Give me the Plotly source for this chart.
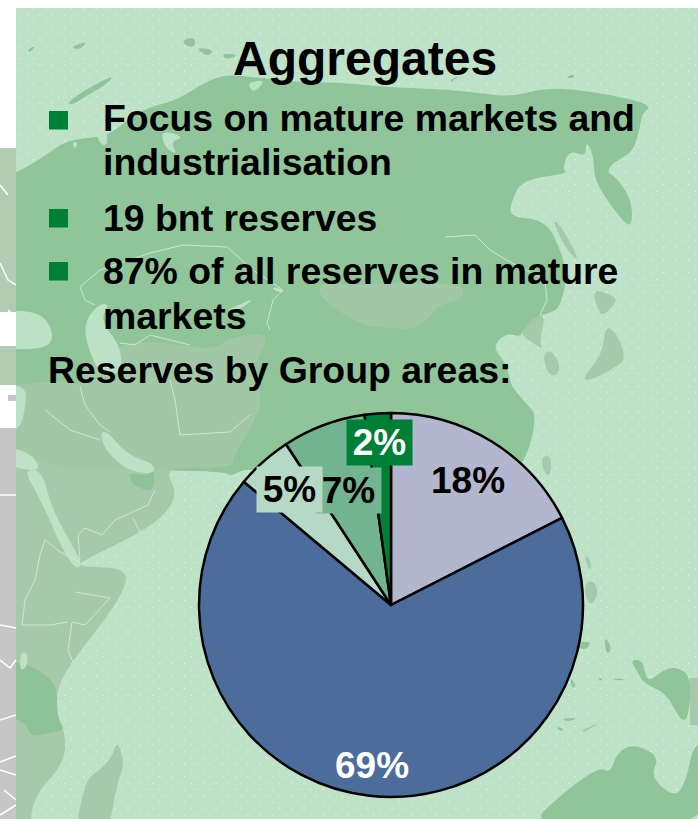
import base64
import plotly.graph_objects as go

W, H = 698, 819

# ---- chart data ----
slice_names = ["Group area 1", "Group area 2", "Group area 3", "Group area 4", "Group area 5"]
slice_values = [17.5, 68.6, 4.7, 7.0, 2.2]
slice_labels = ["18%", "69%", "5%", "7%", "2%"]
slice_colors = ["#B2B7CF", "#4C6C9C", "#B5D9C5", "#72B48F", "#008037"]

title_text = "Aggregates"
bullet_lines = ["Focus on mature markets and", "industrialisation", "19 bnt reserves",
                "87% of all reserves in mature", "markets"]
subtitle_text = "Reserves by Group areas:"

FONT = "Liberation Sans, Arial, sans-serif"
GREEN = "rgba(139,195,148,0.93)"
GREY = "rgba(163,199,168,0.93)"
LIGHT = "rgba(191,227,200,0.95)"
BULLET = "#008037"


def px(x, y):
    return x / W, 1 - y / H


def path(pts, close=True):
    parts = []
    for i, (x, y) in enumerate(pts):
        a, b = px(x, y)
        parts.append(("M" if i == 0 else "L") + f"{a:.5f},{b:.5f}")
    return " ".join(parts) + (" Z" if close else "")


def smooth(pts):
    """Closed outline with rounded corners (map coastlines)."""
    n = len(pts)
    mids = [((pts[i][0] + pts[(i + 1) % n][0]) / 2, (pts[i][1] + pts[(i + 1) % n][1]) / 2) for i in range(n)]
    a, b = px(*mids[-1])
    out = [f"M{a:.5f},{b:.5f}"]
    for i in range(n):
        c, d = px(*pts[i])
        e, f = px(*mids[i])
        out.append(f"Q{c:.5f},{d:.5f} {e:.5f},{f:.5f}")
    return " ".join(out) + " Z"


def poly(pts, fill):
    return dict(type="path", xref="paper", yref="paper", path=smooth(pts), fillcolor=fill,
                line=dict(width=0), layer="below")


def zoomed(pts, ox, oy):
    return [(ox + a / 3, oy + b / 3) for a, b in pts]


def stroke(pts, color="rgba(215,238,220,0.8)", width=1):
    return dict(type="path", xref="paper", yref="paper", path=path(pts, False),
                line=dict(color=color, width=width), layer="below")


def rect(x0, y0, x1, y1, fill):
    a, b = px(x0, y0)
    c, d = px(x1, y1)
    return dict(type="rect", xref="paper", yref="paper", x0=a, y0=b, x1=c, y1=d,
                fillcolor=fill, line=dict(width=0), layer="below")


shapes = []

# landmass
main = [(-30, 190), (16, 173), (33, 163), (43, 157), (67, 140), (100, 137), (113, 132), (140, 110), (177, 100), (197, 87),
        (217, 77), (233, 75), (260, 78), (300, 82), (349, 83), (382, 87), (416, 88), (449, 90), (482, 93), (509, 97),
        (546, 88), (582, 90), (636, 100), (651, 107), (642, 113), (639, 133), (632, 153), (612, 163), (607, 173),
        (616, 177), (632, 200), (632, 230), (616, 213), (594, 180), (594, 157), (586, 140), (586, 157), (569, 150),
        (562, 170), (569, 173), (522, 180), (512, 200), (509, 217), (546, 220), (562, 253), (567, 280), (559, 310),
        (546, 313), (522, 330), (521, 337), (506, 333), (492, 347), (506, 363), (509, 377), (512, 387), (529, 407),
        (535, 413), (533, 437), (523, 463), (500, 500), (500, 770), (300, 770), (300, 480), (246, 467), (232, 477),
        (220, 470), (-30, 470)]
shapes.append(poly(main, GREEN))

# Australia, New Guinea and islands (bottom right)
aus = [(70, 1290), (200, 1170), (300, 1100), (330, 1120), (350, 1060), (400, 1030), (480, 1070), (450, 1130),
       (525, 1195), (560, 1140), (580, 1030), (640, 1030), (640, 1290)]
shapes.append(poly(zoomed(aus, 500, 400), GREEN))
guinea = [(390, 780), (430, 780), (440, 850), (490, 810), (530, 800), (575, 830), (565, 960), (540, 960), (500, 880),
          (430, 850), (410, 810)]
shapes.append(poly(zoomed(guinea, 500, 400), GREEN))
shapes.append(rect(690, 678, 698, 725, GREY))
for isl, col in [
    ([(315, 710), (335, 740), (325, 765), (315, 745)], GREEN),
    ([(210, 830), (230, 860), (215, 865)], GREEN),
    ([(235, 725), (275, 725), (260, 748), (235, 745)], GREEN),
    ([(180, 958), (235, 952), (210, 965)], GREEN),
    ([(165, 980), (190, 985), (185, 995)], GREEN),
    ([(245, 990), (305, 965), (270, 985), (250, 998)], GREY),
    ([(335, 835), (380, 838), (350, 842)], GREEN),
    ([(295, 832), (310, 838), (298, 843)], GREEN),
    ([(250, 550), (285, 540), (295, 590), (265, 620)], GREY),
    ([(255, 465), (272, 480), (272, 515), (258, 490)], GREY),
    ([(127, 170), (150, 165), (155, 205), (145, 232), (127, 205)], GREY),
]:
    shapes.append(poly(zoomed(isl, 500, 400), col))

# Arctic islands
for isl in [
    [(67, 103), (85, 90), (113, 75), (110, 82), (85, 97), (72, 105)],
    [(182, 40), (195, 37), (195, 47), (186, 46)],
    [(195, 47), (215, 50), (207, 57)],
    [(222, 53), (240, 55), (225, 60)],
    [(27, 50), (36, 45), (30, 53)],
    [(70, 47), (88, 41), (80, 50)],
    [(450, 80), (460, 75), (452, 82)],
    [(565, 78), (573, 74), (575, 78)],
]:
    shapes.append(poly(isl, GREEN))

# light inlets on the north coast
for isl in [
    [(247, 83), (262, 80), (263, 84), (253, 93)],
    [(35, 140), (42, 140), (45, 158), (38, 152)],
    [(72, 142), (78, 142), (75, 150)],
    [(95, 128), (106, 127), (108, 145), (100, 145)],
    [(160, 130), (185, 137), (170, 142), (178, 155), (165, 148)],
]:
    shapes.append(poly(isl, LIGHT))

# Middle East + Africa
me = [(-30, 387), (16, 385), (63, 380), (85, 385), (80, 370), (120, 343), (165, 342), (215, 350), (228, 338), (268, 332),
      (262, 352), (252, 368), (262, 395), (258, 415), (233, 457), (233, 467), (190, 468), (165, 470), (177, 492),
      (167, 513), (140, 533), (80, 562), (80, 567), (130, 568), (120, 600), (73, 660), (57, 687), (57, 717), (65, 730),
      (65, 763), (30, 800), (32, 850), (-30, 850)]
shapes.append(poly(me, GREY))

# Mongolia
mong = [(318, 283), (349, 285), (380, 283), (440, 283), (466, 287), (460, 300), (438, 305), (425, 322), (410, 330),
        (395, 328), (370, 327), (349, 318), (330, 305), (320, 295)]
shapes.append(poly(mong, GREY))

# Korea, Japan, Sakhalin
for isl in [
    [(520, 990), (560, 945), (590, 950), (570, 1030), (585, 1050), (520, 1010)],
    [(580, 1060), (610, 1050), (635, 1100), (620, 1130), (595, 1120)],
    [(770, 970), (810, 1010), (830, 1080), (800, 1100), (750, 1130), (700, 1145), (720, 1110), (760, 1060)],
    [(730, 865), (800, 890), (800, 910), (760, 950), (745, 925)],
    [(610, 650), (650, 700), (690, 780), (670, 770), (630, 710)],
]:
    shapes.append(poly(zoomed(isl, 349, 0), GREY))

# Tanzania
shapes.append(poly([(-10, 660), (27, 663), (50, 678), (57, 690), (57, 717), (65, 730), (50, 733), (30, 737), (25, 720),
                    (-10, 715)], GREEN))
# Madagascar
shapes.append(poly([(117, 740), (125, 763), (117, 783), (107, 840), (74, 840), (85, 780), (100, 770), (112, 757)], GREY))

# seas
for sea in [
    [(100, 432), (108, 432), (120, 447), (135, 458), (150, 462), (156, 470), (148, 474), (128, 470), (115, 460), (104, 447)],
    [(24, 470), (42, 470), (52, 510), (78, 555), (82, 565), (75, 570), (58, 540), (50, 520), (35, 490)],
    [(-10, 447), (28, 450), (42, 470), (24, 470), (-10, 460)],
    [(-10, 385), (27, 385), (25, 410), (20, 430), (-10, 440)],
    [(-10, 312), (40, 310), (55, 335), (45, 350), (-10, 348)],
    [(83, 325), (97, 305), (110, 303), (100, 320), (120, 345), (122, 370), (105, 380), (90, 355)],
    [(227, 310), (245, 302), (253, 299), (245, 306), (232, 313)],
    [(272, 287), (280, 288), (284, 293), (275, 291)],
    [(20, 653), (27, 652), (28, 665), (20, 672)],
]:
    shapes.append(poly(sea, LIGHT))
# UAE
shapes.append(poly([(128, 472), (148, 476), (155, 470), (153, 491), (142, 489), (132, 484)], GREEN))

# borders
for line in [
    [(80, 287), (100, 270), (150, 253), (183, 245), (227, 247), (253, 270), (283, 290), (273, 300), (267, 323), (270, 330)],
    [(445, 237), (475, 235), (490, 250), (510, 262), (545, 280), (547, 300), (540, 315), (545, 315)],
    [(80, 287), (85, 300), (95, 305)],
    [(120, 343), (135, 345), (150, 335), (190, 345)],
    [(170, 380), (175, 400), (180, 435), (230, 432), (250, 415)],
    [(80, 387), (85, 405), (100, 425), (110, 432)],
    [(45, 410), (70, 430), (100, 440)],
    [(155, 490), (148, 505), (115, 520), (102, 535), (85, 528), (78, 535), (80, 560)],
    [(133, 518), (140, 532)],
    [(75, 592), (110, 598), (85, 625), (72, 622), (68, 650), (73, 662)],
    [(35, 580), (25, 600), (22, 625), (33, 625), (50, 625), (68, 622)],
    [(80, 562), (60, 552), (45, 540), (40, 555), (35, 580)],
]:
    shapes.append(stroke(line))

# left strip outside the panel, drawn over the map's overhang
shapes += [rect(0, 0, 16, H, "#FFFFFF")]
shapes += [rect(0, 428, 16, H, "#C6C6C6")]
shapes += [rect(0, 148, 16, 312, "#B1CCB3")]
shapes += [rect(0, 346, 16, 385, "#B1CCB3")]
shapes += [rect(8, 395, 16, 401, "#C6C6C6")]
for line in [
    [(0, 495), (16, 495)], [(0, 625), (16, 628)], [(0, 660), (10, 668), (16, 660)], [(0, 720), (16, 715)],
    [(0, 762), (16, 756)], [(0, 770), (16, 775)], [(4, 790), (16, 800)], [(0, 815), (16, 805)],
    [(0, 263), (8, 280), (16, 285)], [(0, 185), (8, 195)], [(8, 310), (16, 318)],
]:
    shapes.append(stroke(line, "#FFFFFF", 1.5))

# bullets
for y0 in [111, 209, 262]:
    shapes.append(rect(49, y0, 68, y0 + 18.5, BULLET))

# panel background with its fine dot texture
svg = f"""<svg xmlns='http://www.w3.org/2000/svg' width='{W}' height='{H}'>
<defs><pattern id='d' width='12.6' height='12.6' patternUnits='userSpaceOnUse'>
<circle cx='2' cy='2' r='0.6' fill='#ffffff' fill-opacity='0.85'/>
<circle cx='8.3' cy='8.3' r='0.6' fill='#ffffff' fill-opacity='0.85'/></pattern></defs>
<rect x='16' y='8' width='{W-16}' height='{H-8}' fill='#BEE2C7'/>
<rect x='16' y='8' width='{W-16}' height='{H-8}' fill='url(#d)'/></svg>"""
img = "data:image/svg+xml;base64," + base64.b64encode(svg.encode()).decode()


def note(text, x, y, size, color="#000000", anchor="left", **kw):
    a, b = px(x, y)
    return dict(text=f"<b>{text}</b>", x=a, y=b, xref="paper", yref="paper", xanchor=anchor, yanchor="middle",
                showarrow=False, font=dict(family=FONT, size=size, color=color), **kw)


annotations = [note(title_text, 364.5, 59, 48, anchor="center")]
for line, y in zip(bullet_lines, [118, 162, 218, 271, 316]):
    annotations.append(note(line, 101, y, 37.4))
annotations.append(note(subtitle_text, 46, 370, 37.4))

label_spec = [
    (0, 468, 480, "#000000", None),
    (1, 372, 765, "#FFFFFF", None),
    (3, 348.5, 490.5, "#000000", slice_colors[3]),
    (2, 289.5, 489.5, "#000000", slice_colors[2]),
    (4, 379.5, 442.5, "#FFFFFF", slice_colors[4]),
]
for idx, x, y, col, bg in label_spec:
    kw = dict(width=65, height=45, bgcolor=bg, borderpad=0, align="center", valign="middle") if bg else {}
    annotations.append(note(slice_labels[idx], x, y, 37, col, anchor="center", **kw))

fig = go.Figure(go.Pie(
    labels=slice_names,
    values=slice_values,
    sort=False,
    direction="clockwise",
    rotation=0,
    textinfo="none",
    hoverinfo="label+percent",
    marker=dict(colors=slice_colors, line=dict(color="#000000", width=2.5)),
    domain=dict(x=[199 / W, 583 / W], y=[1 - 797 / H, 1 - 413 / H]),
    showlegend=False,
))
fig.update_layout(
    width=W, height=H, margin=dict(l=0, r=0, t=0, b=0),
    paper_bgcolor="#FFFFFF", plot_bgcolor="rgba(0,0,0,0)",
    showlegend=False, shapes=shapes, annotations=annotations,
    images=[dict(source=img, xref="paper", yref="paper", x=0, y=1, sizex=1, sizey=1, sizing="stretch",
                 xanchor="left", yanchor="top", layer="below")],
)
fig.write_html("out.html", config=dict(displayModeBar=False),
               post_script="document.body.style.margin='0';document.body.style.overflow='hidden';")
